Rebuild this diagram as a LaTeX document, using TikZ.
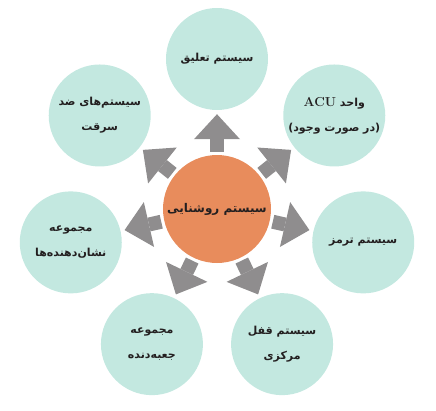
\documentclass[tikz,border=0pt]{standalone}
\usepackage{fontspec}
\usetikzlibrary{arrows.meta}
\TeXXeTstate=1
\newfontfamily\persianfont[Script=Arabic]{DejaVu Sans}
\newcommand{\fa}[1]{\beginR #1\endR}
\definecolor{tealfill}{HTML}{C3E8E0}
\definecolor{orangefill}{HTML}{E88C5C}
\definecolor{arrowgray}{HTML}{8F8D8E}
\definecolor{textdark}{HTML}{231F20}

\begin{document}
\begin{tikzpicture}[x=1pt, y=1pt,
  part/.style={circle, fill=tealfill, minimum size=102pt, inner sep=0pt, align=center,
    text=textdark, font=\persianfont\bfseries\fontsize{11}{25}\selectfont},
  hub/.style={circle, fill=orangefill, minimum size=108pt, inner sep=0pt, align=center,
    text=textdark, font=\persianfont\bfseries\fontsize{12}{25}\selectfont},
  flow/.style={draw=arrowgray, line width=14pt,
    -{Triangle[length=25pt, width=46pt, line width=0pt]},
    shorten <=3pt, shorten >=4pt}]

\useasboundingbox (-217,-201) rectangle (219,209);

% Set the ring radius
\def\ringradius{150}

% The hub and the seven parts round it
\node[hub] (lighting) at (0,0) {\fa{سیستم روشنایی}};
\node[part] (suspension) at (90:\ringradius) {\fa{سیستم تعلیق}};
\node[part] (acu) at (38.57:\ringradius) {\fa{واحد \beginL{\rmfamily\bfseries\fontsize{13}{25}\selectfont ACU}\endL}\\ \fa{(در صورت وجود)}};
\node[part] (brake) at (-12.86:\ringradius) {\fa{سیستم ترمز}};
\node[part] (lock) at (-64.29:\ringradius) {\fa{سیستم قفل}\\ \fa{مرکزی}};
\node[part] (gearbox) at (-115.71:\ringradius) {\fa{مجموعه}\\ \fa{جعبه‌دنده}};
\node[part] (indicators) at (-167.14:\ringradius) {\fa{مجموعه}\\ \fa{نشان‌دهنده‌ها}};
\node[part] (antitheft) at (141.43:\ringradius) {\fa{سیستم‌های ضد}\\ \fa{سرقت}};

% Arrows from the hub
\foreach \target in {suspension, acu, brake, lock, gearbox, indicators, antitheft}
  \draw[flow] (lighting) -- (\target);
\end{tikzpicture}
\end{document}
